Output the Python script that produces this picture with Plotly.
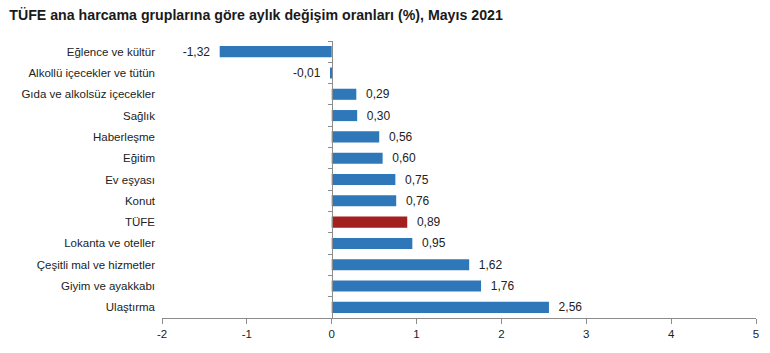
import plotly.graph_objects as go

categories = ["Eğlence ve kültür", "Alkollü içecekler ve tütün", "Gıda ve alkolsüz içecekler",
              "Sağlık", "Haberleşme", "Eğitim", "Ev eşyası", "Konut", "TÜFE",
              "Lokanta ve oteller", "Çeşitli mal ve hizmetler", "Giyim ve ayakkabı", "Ulaştırma"]
values = [-1.32, -0.01, 0.29, 0.30, 0.56, 0.60, 0.75, 0.76, 0.89, 0.95, 1.62, 1.76, 2.56]
highlight = "TÜFE"
x_ticks = [-2, -1, 0, 1, 2, 3, 4, 5]
title = "TÜFE ana harcama gruplarına göre aylık değişim oranları (%), Mayıs 2021"

BLUE = "#2E78BA"
RED = "#A3201F"
colors = [RED if c == highlight else BLUE for c in categories]
FONT = "Liberation Sans, Arial, sans-serif"
NB = "\u00a0"
templates = [(NB * 2 + "%{x:.2f}") if v >= 0 else ("%{x:.2f}" + NB * 2) for v in values]

fig = go.Figure()
fig.add_trace(go.Bar(
    x=values, y=categories, orientation="h",
    marker=dict(color=colors, line=dict(width=0)),
    texttemplate=templates, textposition="outside", cliponaxis=False,
    constraintext="none",
    textfont=dict(family=FONT, size=12, color="#222222"),
    hoverinfo="skip",
))
# invisible helper trace for the axis line drawn at zero
fig.add_trace(go.Scatter(
    x=[0] * len(categories), y=categories, yaxis="y2", mode="markers",
    marker=dict(opacity=0), hoverinfo="skip", showlegend=False,
))

n = len(categories)
yrange = [n - 0.5, -0.5]
fig.update_layout(
    width=770, height=353,
    margin=dict(l=162, r=14, t=41, b=35),
    paper_bgcolor="white", plot_bgcolor="white",
    separators=",.",
    showlegend=False,
    bargap=0.48,
    title=dict(text=title, x=0.012, xanchor="left", y=0.957, yanchor="middle",
               font=dict(family=FONT, size=14.2, color="#1a1a1a", weight="bold")),
    xaxis=dict(range=[-2, 5], tickvals=x_ticks, ticktext=[str(t) for t in x_ticks],
               showgrid=False, zeroline=False, showline=True, linecolor="#8c8c8c",
               linewidth=1, ticks="outside", ticklen=5, tickcolor="#8c8c8c",
               tickfont=dict(family=FONT, size=11.5, color="#222222")),
    yaxis=dict(type="category", range=yrange, showgrid=False, zeroline=False,
               showline=False, ticks="", ticklabelstandoff=6,
               tickfont=dict(family=FONT, size=11.5, color="#222222")),
    yaxis2=dict(type="category", range=yrange, overlaying="y", anchor="free",
                position=2 / 7, side="left", showline=True, linecolor="#8c8c8c",
                linewidth=1, ticks="outside", ticklen=4, tickcolor="#8c8c8c",
                tickson="boundaries", showticklabels=False, showgrid=False,
                zeroline=False),
)
fig.write_html("out.html")
